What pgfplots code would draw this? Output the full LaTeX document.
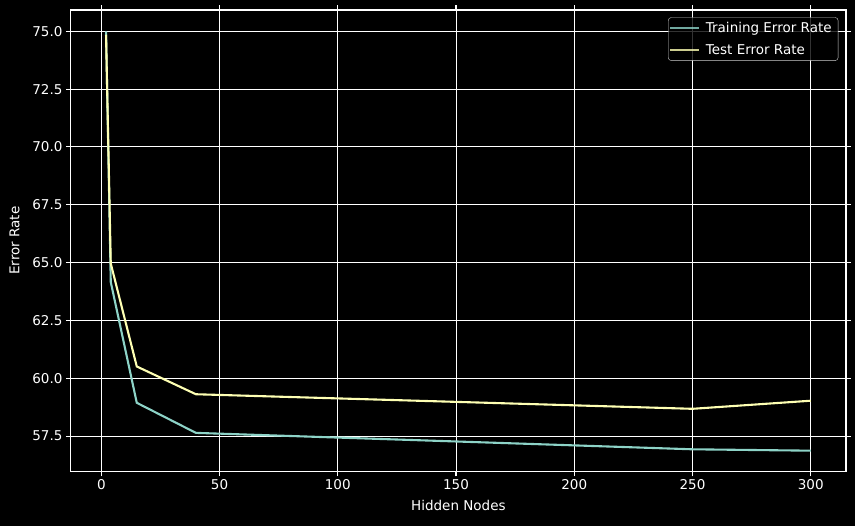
\documentclass[border=0pt]{standalone}
\usepackage{pgfplots}
\pgfplotsset{compat=1.18}
\usepackage{fontspec}
\setmainfont{DejaVu Sans}
\definecolor{trainc}{HTML}{8DD3C7}
\definecolor{testc}{HTML}{FEFFB3}
\begin{document}
\begin{tikzpicture}
\fill[black] (-80pt,-60pt) rectangle (800pt,480pt);
\begin{axis}[
  width=775.2pt, height=461.5pt, scale only axis,
  xmin=-12.9, xmax=314.9, ymin=55.97, ymax=75.92,
  xtick={0,50,...,300},
  ytick={57.5,60,62.5,65,67.5,70,72.5,75},
  yticklabel style={/pgf/number format/.cd, fixed, fixed zerofill, precision=1},
  /pgf/number format/assume math mode=true,
  font=\fontsize{13.5}{16}\selectfont,
  tick label style={white},
  label style={white},
  tick align=outside,
  major tick length=4.8pt,
  tick style={white, line width=1.1pt},
  axis line style={white, line width=1.1pt},
  grid=major,
  major grid style={white, line width=1.0pt},
  axis background/.style={fill=black},
  xlabel={Hidden Nodes}, ylabel={Error Rate},
  xlabel style={at={(axis description cs:0.5,-0.0854)}, anchor=base},
  ylabel style={at={(axis description cs:-0.0662,0.5)}, anchor=base},
  legend style={at={(rel axis cs:1,1)}, anchor=north east, xshift=-7.7pt, yshift=-7.3pt,
    fill=black, fill opacity=0.8, draw=white, draw opacity=0.8, text opacity=1, text=white,
    rounded corners=3pt, inner xsep=1pt, inner ysep=3pt,
    row sep=6pt, font=\fontsize{13.5}{16}\selectfont,
    nodes={inner xsep=5.5pt, inner ysep=2pt}},
  legend cell align=left,
  legend image code/.code={\draw[#1] (0pt,0pt) -- (29pt,0pt);},
]
\addplot[trainc, line width=2.1pt] coordinates {
(2,75.0) (4,64.16) (15,58.94) (40,57.64) (250,56.93) (300,56.87)};
\addlegendentry{Training Error Rate}
\addplot[testc, line width=2.1pt] coordinates {
(2,74.85) (4,64.96) (15,60.51) (40,59.31) (250,58.68) (300,59.03)};
\addlegendentry{Test Error Rate}
\end{axis}
\pgfresetboundingbox
\path ([shift={(-70.8pt,-53.5pt)}]current axis.south west) rectangle ([shift={(9pt,10pt)}]current axis.north east);
\end{tikzpicture}
\end{document}
